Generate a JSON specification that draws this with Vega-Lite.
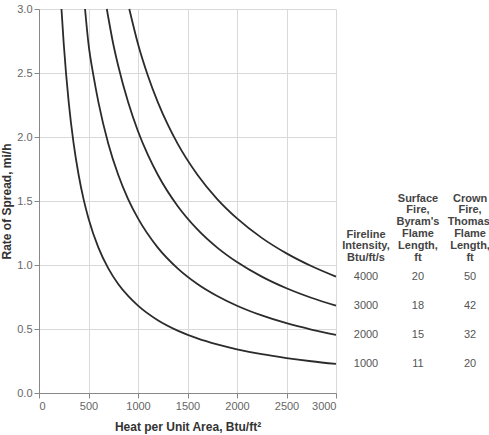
{
  "$schema": "https://vega.github.io/schema/vega-lite/v6.json",
  "autosize": "none",
  "width": 297,
  "height": 384,
  "padding": {"left": 39, "top": 9, "right": 153, "bottom": 42},
  "background": "white",
  "config": {
    "font": "Liberation Sans",
    "view": {"stroke": null},
    "axis": {
      "gridColor": "#d9d9d9",
      "domainColor": "#888888",
      "tickColor": "#888888",
      "labelColor": "#666666",
      "labelFontSize": 11,
      "titleFontSize": 12,
      "titleFontWeight": "bold",
      "titleColor": "#333333",
      "tickSize": 5
    }
  },
  "layer": [
    {
      "data": {
        "values": [
          {"I": 1000, "H": 227, "R": 3.0}, {"I": 1000, "H": 250, "R": 2.727}, {"I": 1000, "H": 300, "R": 2.273},
          {"I": 1000, "H": 350, "R": 1.948}, {"I": 1000, "H": 400, "R": 1.705}, {"I": 1000, "H": 450, "R": 1.515},
          {"I": 1000, "H": 500, "R": 1.364}, {"I": 1000, "H": 600, "R": 1.136}, {"I": 1000, "H": 700, "R": 0.974},
          {"I": 1000, "H": 800, "R": 0.852}, {"I": 1000, "H": 900, "R": 0.758}, {"I": 1000, "H": 1000, "R": 0.682},
          {"I": 1000, "H": 1200, "R": 0.568}, {"I": 1000, "H": 1400, "R": 0.487}, {"I": 1000, "H": 1600, "R": 0.426},
          {"I": 1000, "H": 1800, "R": 0.379}, {"I": 1000, "H": 2000, "R": 0.341}, {"I": 1000, "H": 2250, "R": 0.303},
          {"I": 1000, "H": 2500, "R": 0.273}, {"I": 1000, "H": 2750, "R": 0.248}, {"I": 1000, "H": 3000, "R": 0.227},
          {"I": 2000, "H": 465, "R": 3.0}, {"I": 2000, "H": 500, "R": 2.727}, {"I": 2000, "H": 550, "R": 2.479},
          {"I": 2000, "H": 600, "R": 2.273}, {"I": 2000, "H": 700, "R": 1.948}, {"I": 2000, "H": 800, "R": 1.705},
          {"I": 2000, "H": 900, "R": 1.515}, {"I": 2000, "H": 1000, "R": 1.364}, {"I": 2000, "H": 1200, "R": 1.136},
          {"I": 2000, "H": 1400, "R": 0.974}, {"I": 2000, "H": 1600, "R": 0.852}, {"I": 2000, "H": 1800, "R": 0.758},
          {"I": 2000, "H": 2000, "R": 0.682}, {"I": 2000, "H": 2250, "R": 0.606}, {"I": 2000, "H": 2500, "R": 0.545},
          {"I": 2000, "H": 2750, "R": 0.496}, {"I": 2000, "H": 3000, "R": 0.455},
          {"I": 3000, "H": 685, "R": 3.0}, {"I": 3000, "H": 750, "R": 2.727}, {"I": 3000, "H": 800, "R": 2.557},
          {"I": 3000, "H": 900, "R": 2.273}, {"I": 3000, "H": 1000, "R": 2.045}, {"I": 3000, "H": 1100, "R": 1.86},
          {"I": 3000, "H": 1200, "R": 1.705}, {"I": 3000, "H": 1400, "R": 1.461}, {"I": 3000, "H": 1600, "R": 1.278},
          {"I": 3000, "H": 1800, "R": 1.136}, {"I": 3000, "H": 2000, "R": 1.023}, {"I": 3000, "H": 2250, "R": 0.909},
          {"I": 3000, "H": 2500, "R": 0.818}, {"I": 3000, "H": 2750, "R": 0.744}, {"I": 3000, "H": 3000, "R": 0.682},
          {"I": 4000, "H": 912, "R": 3.0}, {"I": 4000, "H": 1000, "R": 2.727}, {"I": 4000, "H": 1100, "R": 2.479},
          {"I": 4000, "H": 1200, "R": 2.273}, {"I": 4000, "H": 1300, "R": 2.098}, {"I": 4000, "H": 1400, "R": 1.948},
          {"I": 4000, "H": 1600, "R": 1.705}, {"I": 4000, "H": 1800, "R": 1.515}, {"I": 4000, "H": 2000, "R": 1.364},
          {"I": 4000, "H": 2250, "R": 1.212}, {"I": 4000, "H": 2500, "R": 1.091}, {"I": 4000, "H": 2750, "R": 0.992},
          {"I": 4000, "H": 3000, "R": 0.909}
        ]
      },
      "mark": {"type": "line", "color": "#2b2b2b", "strokeWidth": 1.8, "interpolate": "monotone"},
      "encoding": {
        "x": {
          "field": "H", "type": "quantitative",
          "scale": {"domain": [0, 3000], "nice": false},
          "axis": {"values": [0, 500, 1000, 1500, 2000, 2500, 3000], "format": "d", "title": "Heat per Unit Area, Btu/ft²", "titlePadding": 10}
        },
        "y": {
          "field": "R", "type": "quantitative",
          "scale": {"domain": [0, 3], "nice": false},
          "axis": {"values": [0, 0.5, 1, 1.5, 2, 2.5, 3], "format": ".1f", "title": "Rate of Spread, mi/h", "titlePadding": 3}
        },
        "detail": {"field": "I", "type": "nominal"}
      }
    },
    {
      "data": {
        "values": [
          {"intensity": "4000", "surface": "20", "crown": "50", "Rend": 0.909},
          {"intensity": "3000", "surface": "18", "crown": "42", "Rend": 0.682},
          {"intensity": "2000", "surface": "15", "crown": "32", "Rend": 0.455},
          {"intensity": "1000", "surface": "11", "crown": "20", "Rend": 0.227}
        ]
      },
      "layer": [
        {
          "mark": {"type": "text", "fontSize": 11, "color": "#555555", "align": "center", "baseline": "middle"},
          "encoding": {"x": {"datum": 3303, "type": "quantitative"}, "y": {"field": "Rend", "type": "quantitative"}, "text": {"field": "intensity"}}
        },
        {
          "mark": {"type": "text", "fontSize": 11, "color": "#555555", "align": "center", "baseline": "middle"},
          "encoding": {"x": {"datum": 3828, "type": "quantitative"}, "y": {"field": "Rend", "type": "quantitative"}, "text": {"field": "surface"}}
        },
        {
          "mark": {"type": "text", "fontSize": 11, "color": "#555555", "align": "center", "baseline": "middle"},
          "encoding": {"x": {"datum": 4354, "type": "quantitative"}, "y": {"field": "Rend", "type": "quantitative"}, "text": {"field": "crown"}}
        }
      ]
    },
    {
      "data": {"values": [{}]},
      "layer": [
        {
          "mark": {"type": "text", "fontSize": 11, "fontWeight": "bold", "color": "#444444", "align": "center", "baseline": "top", "lineHeight": 11.8},
          "encoding": {"x": {"datum": 3303, "type": "quantitative"}, "y": {"datum": 1.285, "type": "quantitative"}, "text": {"value": ["Fireline", "Intensity,", "Btu/ft/s"]}}
        },
        {
          "mark": {"type": "text", "fontSize": 11, "fontWeight": "bold", "color": "#444444", "align": "center", "baseline": "top", "lineHeight": 11.8},
          "encoding": {"x": {"datum": 3828, "type": "quantitative"}, "y": {"datum": 1.565, "type": "quantitative"}, "text": {"value": ["Surface", "Fire,", "Byram's", "Flame", "Length,", "ft"]}}
        },
        {
          "mark": {"type": "text", "fontSize": 11, "fontWeight": "bold", "color": "#444444", "align": "center", "baseline": "top", "lineHeight": 11.8},
          "encoding": {"x": {"datum": 4354, "type": "quantitative"}, "y": {"datum": 1.565, "type": "quantitative"}, "text": {"value": ["Crown", "Fire,", "Thomas'", "Flame", "Length,", "ft"]}}
        }
      ]
    }
  ]
}
